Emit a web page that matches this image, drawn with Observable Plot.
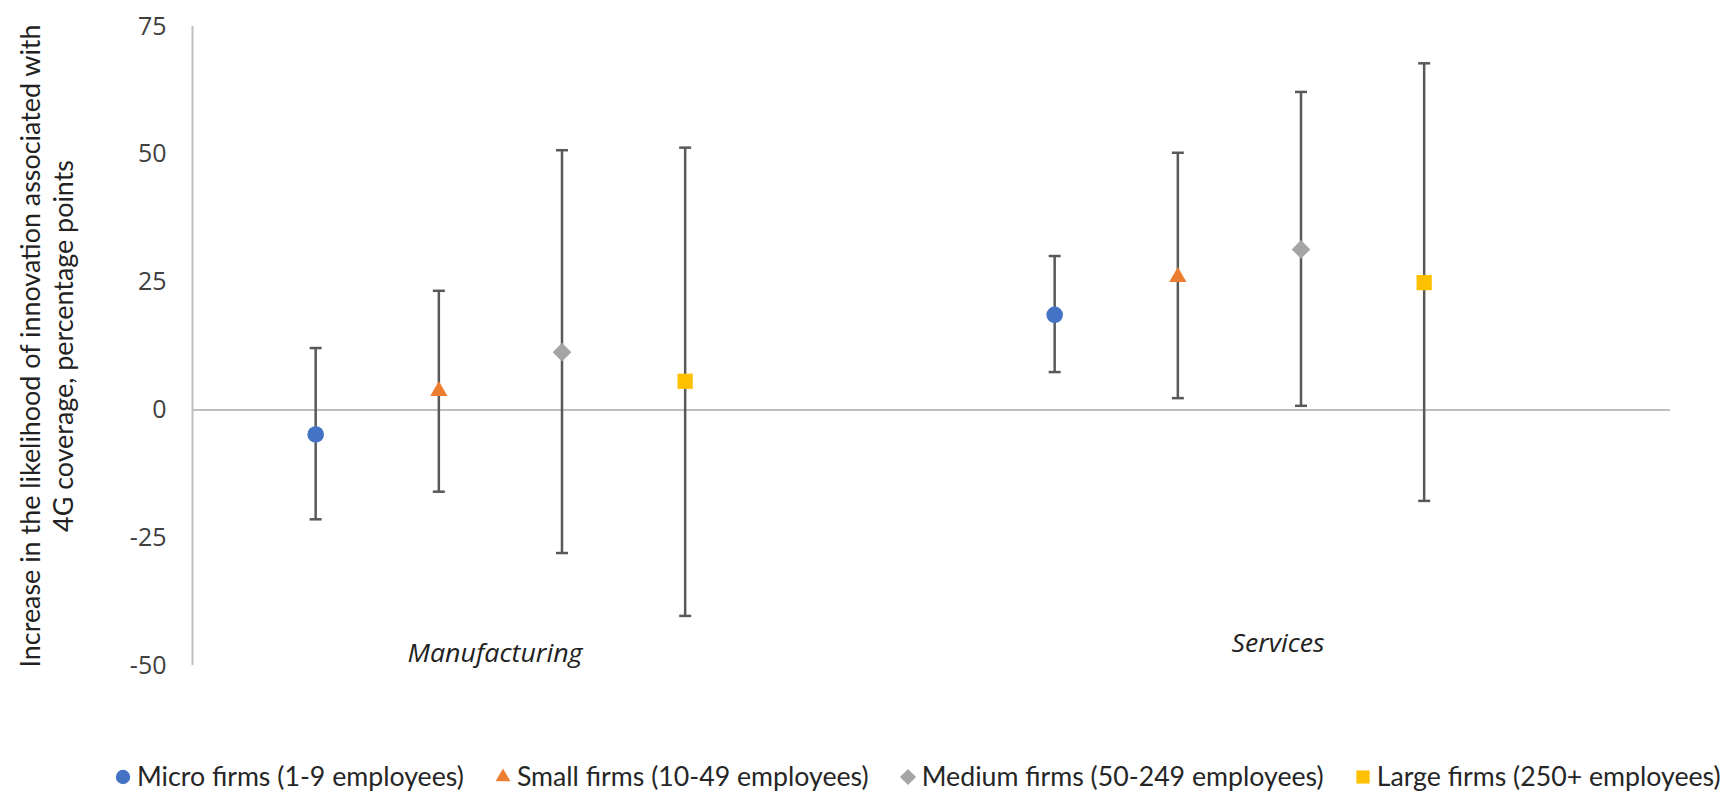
<!DOCTYPE html>
<html>
<head>
<meta charset="utf-8">
<script src="https://cdn.jsdelivr.net/npm/d3@7"></script>
<script src="https://cdn.jsdelivr.net/npm/@observablehq/plot@0.6"></script>
<style>
  html, body { margin: 0; padding: 0; background: #fff; }
  #chart { width: 1731px; }
  .legend { display: flex; align-items: center; margin-top: 58px; padding-left: 114px; height: 36px;
    font-family: Lato, "Open Sans", sans-serif; font-size: 24px; color: #262626; white-space: nowrap; }
  .legend .item { display: flex; align-items: center; margin-right: 30px; }
  .legend svg { margin-right: 5px; }
</style>
</head>
<body>
<div id="chart"></div>
<script>
const categories = ["Manufacturing", "Services"];
const series = ["Micro firms (1-9 employees)", "Small firms (10-49 employees)", "Medium firms (50-249 employees)", "Large firms (250+ employees)"];
const manufacturingEstimate = [-4.8, 3.7, 11.3, 5.6];
const manufacturingLow = [-21.4, -16.0, -28.0, -40.3];
const manufacturingHigh = [12.1, 23.3, 50.8, 51.3];
const servicesEstimate = [18.6, 26.0, 31.4, 24.9];
const servicesLow = [7.4, 2.3, 0.8, -17.8];
const servicesHigh = [30.1, 50.3, 62.2, 67.8];
const yTicks = [75, 50, 25, 0, -25, -50];
const yTitleLines = ["Increase in the likelihood of innovation associated with", "4G coverage, percentage points"];

const colors = ["#4472C4", "#ED7D31", "#A5A5A5", "#FFC000"];
const symbols = ["circle", "triangle", "diamond2", "square"];
const radii = [8.3, 6.4, 8.4, 8.6];

const groupSlots = series.length + 2;
const estimates = [manufacturingEstimate, servicesEstimate];
const lows = [manufacturingLow, servicesLow];
const highs = [manufacturingHigh, servicesHigh];
const rows = [];
categories.forEach((c, g) => series.forEach((s, i) => rows.push({
  category: c, series: s, si: i, slot: g * groupSlots + i,
  est: estimates[g][i], lo: lows[g][i], hi: highs[g][i]
})));

const cap = { draw(ctx, size) { const r = Math.sqrt(size / Math.PI); ctx.moveTo(-r, 0); ctx.lineTo(r, 0); } };
const centerSlot = g => g * groupSlots + 2;
const catStyle = { fontSize: 26, fontStyle: "italic", fill: "#222", text: d => d };
const titleStyle = { frameAnchor: "left", textAnchor: "middle", rotate: -90, fontSize: 27, fill: "#222", fontFamily: "Lato, 'Open Sans', sans-serif", text: d => d };

const chart = Plot.plot({
  width: 1731, height: 700,
  marginLeft: 192, marginRight: 61, marginTop: 26, marginBottom: 35,
  style: { fontFamily: "'Open Sans', sans-serif", background: "#fff" },
  x: { domain: [-1, groupSlots * categories.length - 1], axis: null },
  y: { domain: [-50, 75], axis: null },
  marks: [
    Plot.axisY({ ticks: yTicks, tickFormat: d => String(d), tickSize: 0, tickPadding: 26, fontSize: 25, color: "#404040", label: null }),
    Plot.ruleX([-1], { stroke: "#BFBFBF", strokeWidth: 2 }),
    Plot.ruleY([0], { stroke: "#BFBFBF", strokeWidth: 2 }),
    Plot.ruleX(rows, { x: "slot", y1: "lo", y2: "hi", stroke: "#595959", strokeWidth: 2.5 }),
    Plot.dot(rows, { x: "slot", y: "lo", symbol: () => cap, r: 6, stroke: "#595959", strokeWidth: 2.5 }),
    Plot.dot(rows, { x: "slot", y: "hi", symbol: () => cap, r: 6, stroke: "#595959", strokeWidth: 2.5 }),
    ...series.map((s, i) => Plot.dot(rows.filter(d => d.si === i), { x: "slot", y: "est", symbol: symbols[i], r: radii[i], fill: colors[i], stroke: null })),
    Plot.text([categories[0]], { x: () => centerSlot(0), frameAnchor: "bottom", dy: -4, dx: -67, ...catStyle }),
    Plot.text([categories[1]], { x: () => centerSlot(1), frameAnchor: "bottom", dy: -14, dx: -23, ...catStyle }),
    Plot.text([yTitleLines[0]], { ...titleStyle, dx: -161 }),
    Plot.text([yTitleLines[1]], { ...titleStyle, dx: -128 })
  ]
});
document.getElementById("chart").appendChild(chart);

function fitText(content, length) {
  const nodes = d3.select(chart).selectAll("text").filter(function () { return this.textContent === content; }).nodes();
  nodes.forEach(n => { n.setAttribute("textLength", length); n.setAttribute("lengthAdjust", "spacingAndGlyphs"); });
  return nodes;
}
// condense the axis title to the reference's narrow face
const t0 = d3.select(chart).selectAll("text").filter(function () { return this.textContent === yTitleLines[0]; }).node();
const t1 = d3.select(chart).selectAll("text").filter(function () { return this.textContent === yTitleLines[1]; }).node();
if (t0 && t1) {
  const n0 = t0.getComputedTextLength(), n1 = t1.getComputedTextLength();
  const ratio = n0 > 0 ? 643 / n0 : 1;
  fitText(yTitleLines[0], 643);
  fitText(yTitleLines[1], n1 * ratio);
}
fitText(categories[0], 175);
fitText(categories[1], 93);

const legend = document.createElement("div");
legend.className = "legend";
const spans = [];
series.forEach((s, i) => {
  const item = document.createElement("div");
  item.className = "item";
  const sym = d3.create("svg").attr("width", 18).attr("height", 20);
  sym.append("path").attr("transform", "translate(9,11)")
    .attr("d", d3.symbol(d3["symbol" + symbols[i][0].toUpperCase() + symbols[i].slice(1)], Math.PI * radii[i] * radii[i] * 0.75)())
    .attr("fill", colors[i]);
  item.appendChild(sym.node());
  const span = document.createElement("span");
  span.textContent = s;
  item.appendChild(span);
  spans.push(span);
  legend.appendChild(item);
});
document.getElementById("chart").appendChild(legend);
const w0 = spans[0].getBoundingClientRect().width;
legend.style.fontSize = (24 * 327 / w0) + "px";
</script>
</body>
</html>
